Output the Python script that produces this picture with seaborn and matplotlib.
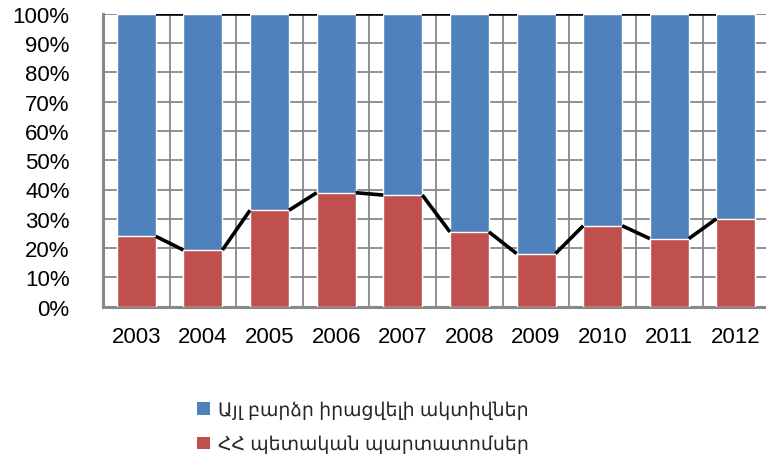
import matplotlib
matplotlib.use("Agg")
import matplotlib.pyplot as plt
import seaborn as sns
import pandas as pd
import numpy as np
from matplotlib.patches import Patch

# Chart data (percent shares)
years = ["2003", "2004", "2005", "2006", "2007", "2008", "2009", "2010", "2011", "2012"]
govt_bonds = [24.0, 19.3, 32.9, 38.9, 38.1, 25.5, 18.1, 27.6, 23.2, 30.0]
other_liquid = [76.0, 80.7, 67.1, 61.1, 61.9, 74.5, 81.9, 72.4, 76.8, 70.0]
labels = ["Այլ բարձր իրացվելի ակտիվներ", "ՀՀ պետական պարտատոմսեր"]

BLUE = "#4F81BD"
RED = "#C0504D"
GRID = "#888888"
BAR_W = 0.585

sns.set_style("white")
plt.rcParams["font.family"] = ["Liberation Sans", "DejaVu Sans"]

df = pd.DataFrame({"year": years, "bonds": govt_bonds, "other": other_liquid})
df["total"] = df["bonds"] + df["other"]

fig = plt.figure(figsize=(7.66, 4.60), dpi=100)
ax = fig.add_axes([102.9 / 766, 152.5 / 460, (769.3 - 102.9) / 766, 292.5 / 460])

# gridlines: horizontal every 10%, vertical between categories
for v in np.arange(10, 101, 10):
    ax.axhline(v, color=GRID, lw=1.3, zorder=0)
for i in range(1, len(years)):
    ax.axvline(i - 0.5, color=GRID, lw=1.3, zorder=0)

sns.barplot(data=df, x="year", y="total", color=BLUE, width=BAR_W,
            saturation=1, ax=ax, zorder=2)
sns.barplot(data=df, x="year", y="bonds", color=RED, width=BAR_W,
            saturation=1, ax=ax, zorder=3)

# Excel-style series lines between bars
for i in range(len(years) - 1):
    x0, x1 = i + BAR_W / 2, i + 1 - BAR_W / 2
    ax.plot([x0, x1], [govt_bonds[i], govt_bonds[i + 1]], color="black",
            lw=2.6, solid_capstyle="butt", zorder=4)
    ax.plot([x0, x1], [df["total"][i], df["total"][i + 1]], color="black",
            lw=2.6, solid_capstyle="butt", zorder=4)

ax.set_xlim(-0.5, len(years) - 0.5)
ax.set_ylim(0, 100)
ax.set_yticks(np.arange(0, 101, 10))
ax.set_yticklabels([f"{v}%" for v in range(0, 101, 10)])
ax.set_xlabel("")
ax.set_ylabel("")
ax.tick_params(axis="y", length=0, pad=24, labelsize=16, colors="black")
ax.tick_params(axis="x", length=0, pad=14, labelsize=16, colors="black")

for s in ["top", "right"]:
    ax.spines[s].set_visible(False)
for s in ["left", "bottom"]:
    ax.spines[s].set_color(GRID)
    ax.spines[s].set_linewidth(2.2)

handles = [Patch(facecolor=BLUE, edgecolor="none"),
           Patch(facecolor=RED, edgecolor="none")]
fig.legend(handles, labels, loc="center left", bbox_to_anchor=(197 / 766, 1 - 428 / 460),
           frameon=False, fontsize=13.6, handlelength=0.7, handleheight=0.65,
           handletextpad=0.4, labelspacing=0.85, borderpad=0, borderaxespad=0)

fig.savefig("out.png", dpi=100)
